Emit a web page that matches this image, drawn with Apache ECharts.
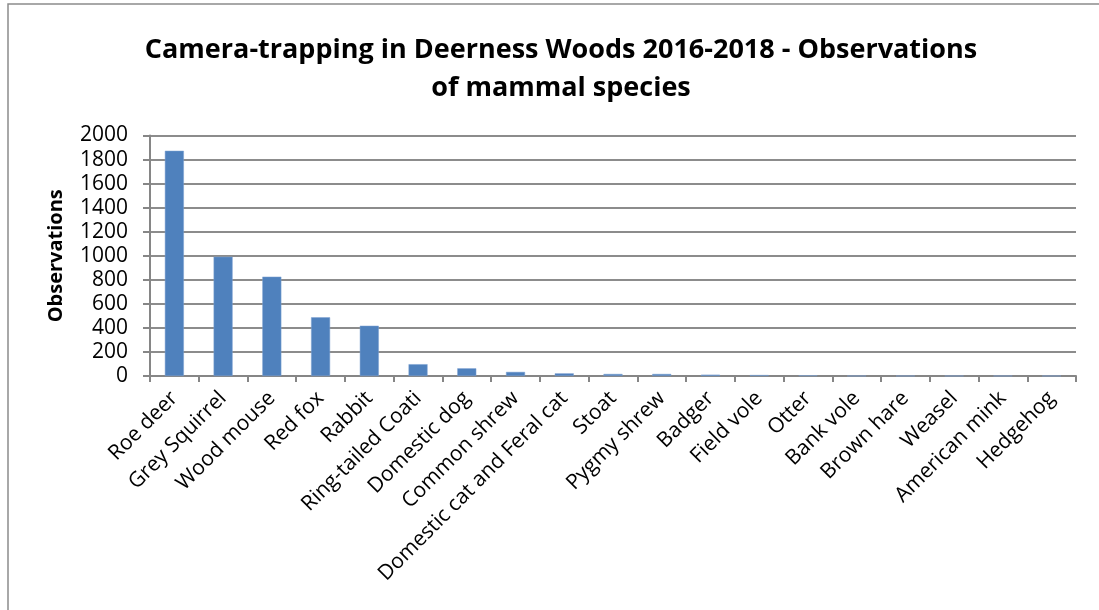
<!DOCTYPE html>
<html>
<head>
<meta charset="utf-8">
<script src="https://cdn.jsdelivr.net/npm/echarts@6/dist/echarts.min.js"></script>
<style>
html,body{margin:0;padding:0;background:#fff;}
#chart{width:1099px;height:610px;}
</style>
</head>
<body>
<div id="chart"></div>
<script>
var categories = ["Roe deer","Grey Squirrel","Wood mouse","Red fox","Rabbit","Ring-tailed Coati","Domestic dog","Common shrew","Domestic cat and Feral cat","Stoat","Pygmy shrew","Badger","Field vole","Otter","Bank vole","Brown hare","Weasel","American mink","Hedgehog"];
var observations = [1873, 992, 826, 488, 418, 98, 64, 34, 22, 17, 17, 11, 8, 5, 1, 1, 1, 1, 1];
var yTicks = [0, 2000, 200];
var titleText = "Camera-trapping in Deerness Woods 2016-2018 - Observations\nof mammal species";
var yAxisTitle = "Observations";

var chart = echarts.init(document.getElementById('chart'));
var FONT = "Open Sans";
chart.setOption({
  animation: false,
  backgroundColor: '#ffffff',
  graphic: [{
    type: 'rect',
    shape: {x: 8, y: 4, width: 1200, height: 700},
    style: {fill: 'none', stroke: '#8c8c8c', lineWidth: 1.5},
    silent: true,
    z: -1
  }],
  title: {
    text: titleText,
    left: 556,
    top: 26,
    textAlign: 'center',
    textStyle: {fontFamily: FONT, fontWeight: 'bold', fontSize: 27, color: '#000', lineHeight: 38}
  },
  grid: {left: 150, right: 23, top: 135.5, bottom: 234, containLabel: false},
  xAxis: {
    type: 'category',
    data: categories,
    axisLine: {lineStyle: {color: '#868686', width: 2}},
    axisTick: {show: true, alignWithLabel: false, length: 6, lineStyle: {color: '#868686', width: 2}},
    axisLabel: {rotate: 45, interval: 0, margin: 19, fontFamily: FONT, fontSize: 21, color: '#000'}
  },
  yAxis: {
    type: 'value',
    min: yTicks[0],
    max: yTicks[1],
    interval: yTicks[2],
    name: yAxisTitle,
    nameLocation: 'middle',
    nameGap: 84,
    nameTextStyle: {fontFamily: FONT, fontWeight: 'bold', fontSize: 20, color: '#000'},
    axisLine: {show: true, lineStyle: {color: '#868686', width: 2}},
    axisTick: {show: true, inside: false, length: 7, lineStyle: {color: '#868686', width: 2}},
    splitLine: {show: true, lineStyle: {color: '#8c8c8c', width: 2}},
    axisLabel: {margin: 22, fontFamily: FONT, fontSize: 21, color: '#000', formatter: function (v) { return String(v); }}
  },
  series: [{
    type: 'bar',
    data: observations,
    barWidth: 19,
    itemStyle: {color: '#4F81BD', borderColor: '#7fa3d3', borderWidth: 0.5}
  }]
});
</script>
</body>
</html>
